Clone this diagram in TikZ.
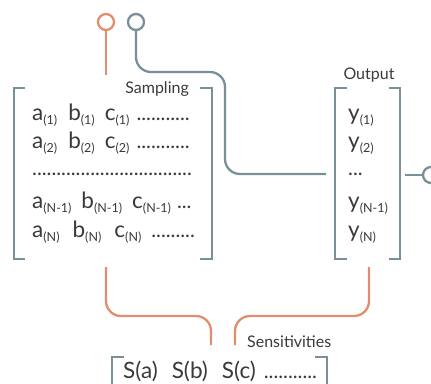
\documentclass[tikz,border=0pt]{standalone}
\usepackage{fontspec}
\setmainfont{Lato}
\usetikzlibrary{positioning, calc}
\definecolor{salmon}{RGB}{226,142,110}
\definecolor{slate}{RGB}{122,144,153}
\definecolor{ink}{RGB}{58,58,58}
\newcommand{\sub}[1]{\raisebox{-4.5pt}{\fontsize{12.5}{12.5}\selectfont#1}}
\newcommand{\dotrun}[1]{{\fontsize{20.5}{20.5}\selectfont#1}}

\begin{document}
\begin{tikzpicture}[x=1pt, y=-1pt,
  bracket/.style={slate, line width=2.6pt},
  wire/.style={line width=2.3pt, rounded corners=15pt},
  plug/.style={circle, draw, line width=2.3pt, minimum size=16pt, inner sep=0pt},
  entry/.style={ink, font=\fontsize{22.5}{22.5}\selectfont, anchor=base west, inner sep=0pt},
  tag/.style={ink, font=\fontsize{16}{16}\selectfont, inner sep=0pt}]
  \useasboundingbox (0,0) rectangle (431,383);

  \draw[bracket] (25,88) -- (14,88) -- (14,259) -- (25,259);
  \draw[bracket] (200,88) -- (212,88) -- (212,259) -- (200,259);
  \draw[bracket] (347,88) -- (335,88) -- (335,259) -- (347,259);
  \draw[bracket] (389,88) -- (400,88) -- (400,259) -- (389,259);
  \draw[bracket] (124,357) -- (112,357) -- (112,390);
  \draw[bracket] (315,357) -- (327,357) -- (327,390);

  \node[tag, anchor=base east] (samp) at (189,93) {Sampling};
  \node[tag, anchor=base] (out) at (369,79) {Output};
  \node[tag, anchor=base west] (sens) at (247,347) {Sensitivities};

  \node[entry] (a1) at (32,120) {a\sub{(1)}\hspace{11pt}b\sub{(1)}\hspace{10pt}c\sub{(1)}\hspace{7pt}\dotrun{...........}};
  \node[entry] (a2) at (32,148) {a\sub{(2)}\hspace{11pt}b\sub{(2)}\hspace{10pt}c\sub{(2)}\hspace{7pt}\dotrun{...........}};
  \node[entry] (a3) at (32,175) {\dotrun{.................................}};
  \node[entry] (a4) at (32,208) {a\sub{(N-1)}\hspace{10pt}b\sub{(N-1)}\hspace{10pt}c\sub{(N-1)}\hspace{6pt}\dotrun{...}};
  \node[entry] (a5) at (32,237) {a\sub{(N)}\hspace{13pt}b\sub{(N)}\hspace{13pt}c\sub{(N)}\hspace{10pt}\dotrun{.........}};

  \node[entry] (y1) at (348,120) {y\sub{(1)}};
  \node[entry] (y2) at (348,148) {y\sub{(2)}};
  \node[entry] (y3) at (348,175) {\dotrun{...}};
  \node[entry] (y4) at (348,208) {y\sub{(N-1)}};
  \node[entry] (y5) at (348,237) {y\sub{(N)}};

  \node[entry] (s) at (123,378) {S(a)\hspace{14pt}S(b)\hspace{14pt}S(c)\hspace{8pt}\dotrun{...........}};

  \node[plug, salmon] (inA) at (106,22) {};
  \node[plug, slate] (inB) at (136,22) {};
  \node[plug, slate] (outP) at (431,175) {};

  \coordinate (sampTop) at (106,75);
  \coordinate (sampBot) at (106,267);
  \coordinate (outIn) at (326,174);
  \coordinate (outOut) at (405,175);
  \coordinate (outBot) at (369,267);
  \coordinate (sensA) at (211,345);
  \coordinate (sensB) at (235,345);

  \draw[wire, salmon] (inA) -- (sampTop);
  \draw[wire, slate] (inB) -- (136,72) -- (225,72) -- (225,174) -- (outIn);
  \draw[wire, slate] (outOut) -- (outP);
  \draw[wire, salmon] (sampBot) -- (106,316) -- (211,316) -- (sensA);
  \draw[wire, salmon] (outBot) -- (369,316) -- (235,316) -- (sensB);
\end{tikzpicture}
\end{document}
